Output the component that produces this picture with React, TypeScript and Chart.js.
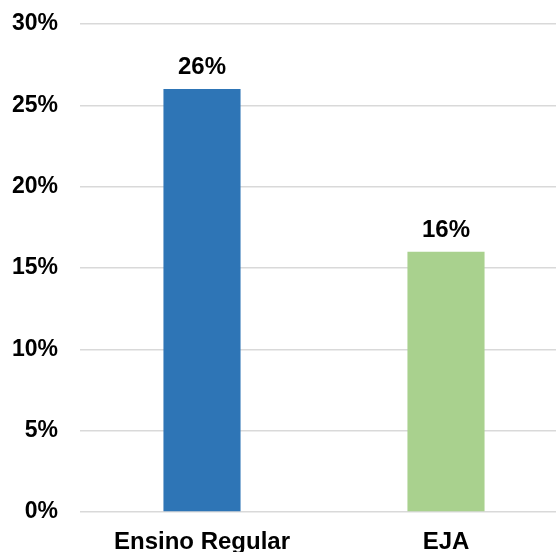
import React, { useEffect, useRef } from "react";
import { Chart, registerables } from "chart.js";

Chart.register(...registerables);

const categories = ["Ensino Regular", "EJA"];
const values = [26, 16];
const barColors = ["#2E75B6", "#A9D18E"];
const yTickValues = [0, 5, 10, 15, 20, 25, 30];

const FONT = "'Liberation Sans', Arial, sans-serif";

const dataLabelPlugin = {
  id: "dataLabels",
  afterDatasetsDraw(chart: any) {
    const { ctx } = chart;
    const meta = chart.getDatasetMeta(0);
    ctx.save();
    ctx.font = `bold 24px ${FONT}`;
    ctx.fillStyle = "#000000";
    ctx.textAlign = "center";
    ctx.textBaseline = "alphabetic";
    meta.data.forEach((bar: any, i: number) => {
      ctx.fillText(`${values[i]}%`, bar.x, bar.y - 15);
    });
    ctx.restore();
  },
};

export default function App() {
  const ref = useRef<HTMLCanvasElement | null>(null);
  useEffect(() => {
    if (!ref.current) return;
    const chart = new Chart(ref.current, {
      type: "bar",
      data: {
        labels: categories,
        datasets: [
          {
            data: values,
            backgroundColor: barColors,
            borderWidth: 0,
            categoryPercentage: 1,
            barPercentage: 0.316,
          },
        ],
      },
      options: {
        animation: false,
        responsive: false,
        maintainAspectRatio: false,
        devicePixelRatio: 1,
        layout: { padding: { top: 24, left: 0, right: 0, bottom: 0 } },
        plugins: {
          legend: { display: false },
          tooltip: { enabled: false },
        },
        scales: {
          x: {
            grid: { display: false },
            border: { display: false },
            ticks: {
              color: "#000000",
              font: { family: FONT, size: 24, weight: "bold" },
              padding: 8,
              maxRotation: 0,
            },
            afterFit(scale: any) {
              scale.height = 40;
              scale.paddingLeft = 0;
              scale.paddingRight = 0;
            },
          },
          y: {
            min: 0,
            max: 30,
            afterBuildTicks(scale: any) {
              scale.ticks = yTickValues.map((v) => ({ value: v }));
            },
            grid: { color: "#d9d9d9", lineWidth: 1.5, drawTicks: false },
            border: { display: false },
            ticks: {
              color: "#000000",
              font: { family: FONT, size: 23, weight: "bold" },
              padding: 22,
              callback: (v: any) => `${v}%`,
            },
            afterFit(scale: any) {
              scale.width = 80;
              scale.paddingTop = 0;
              scale.paddingBottom = 0;
            },
          },
        },
      },
      plugins: [dataLabelPlugin],
    });
    return () => chart.destroy();
  }, []);
  return (
    <div
      style={{
        position: "fixed",
        left: 0,
        top: 0,
        width: 556,
        height: 552,
        overflow: "hidden",
        background: "#ffffff",
      }}
    >
      <canvas ref={ref} width={568} height={552} style={{ display: "block" }} />
    </div>
  );
}
